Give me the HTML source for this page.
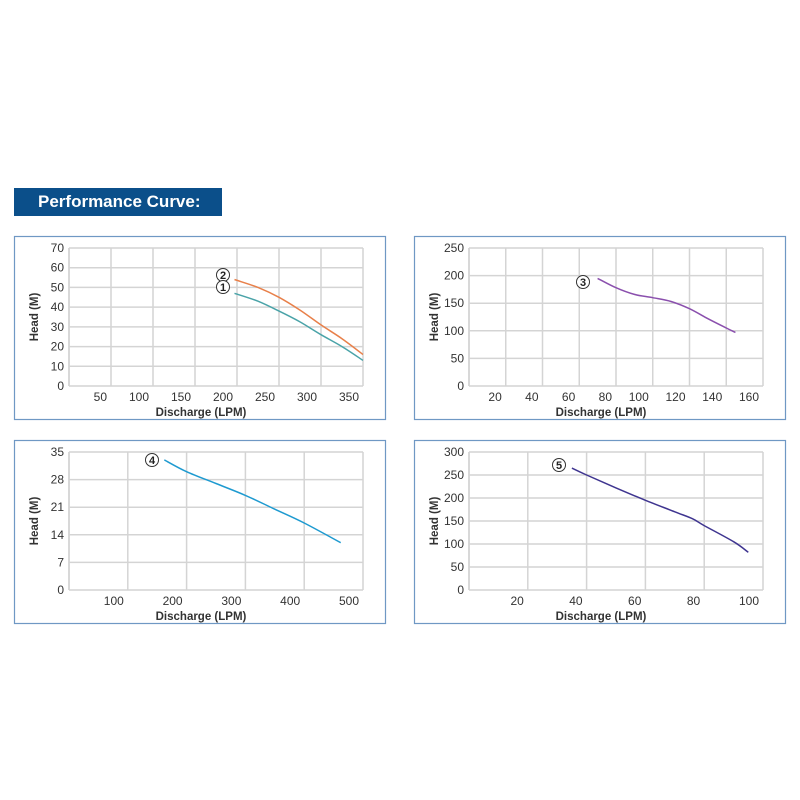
<!DOCTYPE html>
<html><head><meta charset="utf-8">
<style>
body{margin:0;background:#fff;width:800px;height:800px;overflow:hidden;font-family:"Liberation Sans",sans-serif}
#title{position:absolute;left:14px;top:188px;width:208px;height:28px;background:#0b4f8a;color:#fff;font-weight:bold;font-size:17px;line-height:28px;text-indent:24px}
svg{position:absolute;left:0;top:0}
</style></head><body>
<div id="title">Performance Curve:</div>
<svg id="s" width="800" height="800"></svg>
<script>
const p1X=[197,225,250,275,300,325,350], p1Y1=[47,43,38,32.5,26,20,13], p1Y2=[54,50,45,38.5,31,24,16];
const p2X=[70,80,90,100,110,120,130,140,145], p2Y=[195,178,166,160,153,140,122,105,97];
const p4X=[162,200,250,300,350,400,462], p4Y=[33,30,27,24,20.5,17,12];
const p5X=[35,40,50,60,70,76,80,90,95], p5Y=[265,250,222,195,170,155,140,105,82];
const p1XTicks=[50,100,150,200,250,300,350], p1YTicks=[0,10,20,30,40,50,60,70];
const p2XTicks=[20,40,60,80,100,120,140,160], p2YTicks=[0,50,100,150,200,250];
const p4XTicks=[100,200,300,400,500], p4YTicks=[0,7,14,21,28,35];
const p5XTicks=[20,40,60,80,100], p5YTicks=[0,50,100,150,200,250,300];
const NS='http://www.w3.org/2000/svg', svg=document.getElementById('s');
function mk(t,a,parent){const e=document.createElementNS(NS,t);for(const k in a)e.setAttribute(k,a[k]);(parent||svg).appendChild(e);return e;}
function smooth(pts){let d='M'+pts[0][0].toFixed(1)+','+pts[0][1].toFixed(1);
  for(let i=0;i<pts.length-1;i++){const p0=pts[i-1]||pts[i],p1=pts[i],p2=pts[i+1],p3=pts[i+2]||p2;
    const c1=[p1[0]+(p2[0]-p0[0])/6,p1[1]+(p2[1]-p0[1])/6],c2=[p2[0]-(p3[0]-p1[0])/6,p2[1]-(p3[1]-p1[1])/6];
    d+='C'+c1.map(v=>v.toFixed(1))+' '+c2.map(v=>v.toFixed(1))+' '+p2.map(v=>v.toFixed(1));}
  return d;}
function panel(name,bx,by,xmax,ymax,xt,yt,series,lbls){
  const g=mk('g',{});
  
  
  const box=mk('rect',{x:bx+.5,y:by+.5,width:371,height:183,fill:'#fff',stroke:'#6f98c4','stroke-width':1.2},g);
  
  
  const L=bx+55,R=bx+349,T=by+12,B=by+150;
  const sx=v=>L+v/xmax*(R-L), sy=v=>B-v/ymax*(B-T);
  mk('line',{x1:L,y1:T,x2:L,y2:B,stroke:'#ccc','stroke-width':1.5},g);
  xt.forEach(v=>{mk('line',{x1:sx(v),y1:T,x2:sx(v),y2:B,stroke:'#d4d4d4','stroke-width':1.5},g);
    const t=mk('text',{x:sx(v)-4,y:B+15,'text-anchor':'end','font-size':12,fill:'#333'},g);t.textContent=v;
    
    });
  yt.forEach(v=>{mk('line',{x1:L,y1:sy(v),x2:R,y2:sy(v),stroke:'#d4d4d4','stroke-width':1.5},g);
    const t=mk('text',{x:L-5,y:sy(v)+4,'text-anchor':'end','font-size':12,fill:'#333'},g);t.textContent=v;
    
    });
  const xl=mk('text',{x:(L+R)/2-15,y:B+30,'text-anchor':'middle','font-size':11.5,'font-weight':'bold',fill:'#333'},g);xl.textContent='Discharge (LPM)';
  
  
  const yl=mk('text',{x:0,y:0,transform:`translate(${bx+24},${(T+B)/2}) rotate(-90)`,'text-anchor':'middle','font-size':11.5,'font-weight':'bold',fill:'#333'},g);yl.textContent='Head (M)';
  
  
  series.forEach(s=>{
    const pts=s.x.map((v,i)=>[sx(v),sy(s.y[i])]);
    const p=mk('path',{d:smooth(pts),fill:'none',stroke:s.c,'stroke-width':1.5,'stroke-linejoin':'round'},g);
    
    
  });
  lbls.forEach(l=>{
    const c=mk('circle',{cx:l[0],cy:l[1],r:6.5,fill:'#fff',stroke:'#333','stroke-width':1},g);
    
    
    const t=mk('text',{x:l[0],y:l[1]+4,'text-anchor':'middle','font-size':11,'font-weight':'bold',fill:'#222'},g);t.textContent=l[2];
  });
}
panel('chart-curve-1-2',14,236,350,70,p1XTicks,p1YTicks,[{x:p1X,y:p1Y1,c:'#4aa3a8',n:'curve-1'},{x:p1X,y:p1Y2,c:'#e8804a',n:'curve-2'}],[[223,275,'2'],[223,287,'1']]);
panel('chart-curve-3',414,236,160,250,p2XTicks,p2YTicks,[{x:p2X,y:p2Y,c:'#8a4fad',n:'curve-3'}],[[583,282,'3']]);
panel('chart-curve-4',14,440,500,35,p4XTicks,p4YTicks,[{x:p4X,y:p4Y,c:'#1e9ad0',n:'curve-4'}],[[152,460,'4']]);
panel('chart-curve-5',414,440,100,300,p5XTicks,p5YTicks,[{x:p5X,y:p5Y,c:'#3f3590',n:'curve-5'}],[[559,465,'5']]);
</script>
</body></html>
